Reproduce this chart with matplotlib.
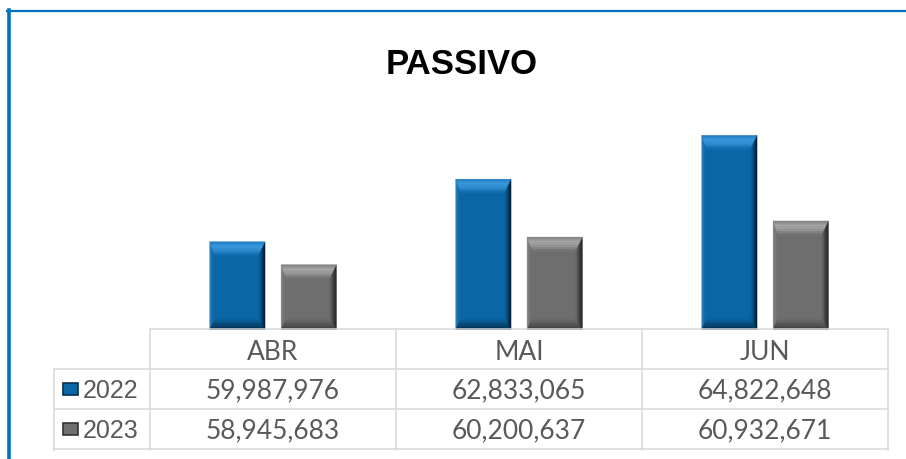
import matplotlib
matplotlib.use("Agg")
import matplotlib.pyplot as plt
from matplotlib.patches import Polygon, Rectangle
from matplotlib.lines import Line2D
from matplotlib.transforms import blended_transform_factory
from matplotlib.colors import to_rgb
import numpy as np

# ---- data ----
categories = ["ABR", "MAI", "JUN"]
series_names = ["2022", "2023"]
values_2022 = [59987976, 62833065, 64822648]
values_2023 = [58945683, 60200637, 60932671]
labels_2022 = ["59,987,976", "62,833,065", "64,822,648"]
labels_2023 = ["58,945,683", "60,200,637", "60,932,671"]
title = "PASSIVO"

W, H = 906, 460
fig = plt.figure(figsize=(W / 100, H / 100), dpi=100)
fig.patch.set_facecolor("white")

def fx(px):
    return px / W

def fy(py):
    return 1 - py / H

ax = fig.add_axes([fx(150), fy(330.5), fx(888) - fx(150), fy(110.5) - fy(330.5)])
ax.set_xlim(-0.5, 2.5)
ax.set_ylim(56e6, 66e6)
ax.axis("off")

x = np.arange(len(categories))
bw = 0.224
off = 0.145
face = {"2022": "#0a66a5", "2023": "#6e6e6e"}
# colour stops from outer edge (t=0) to inner edge (t=1) of each bevel side
bevel = {
    "2022": {"top": ["#2079bb", "#3a9ae0", "#2d8acd", "#0a66a5"],
             "left": ["#2a82c2", "#1570b0", "#0a66a5"],
             "right": ["#031a2c", "#05304f", "#0a5589", "#0a66a5"],
             "bottom": ["#04294a", "#064a7a", "#0a66a5"]},
    "2023": {"top": ["#7d7d7d", "#a8a8a8", "#959595", "#6e6e6e"],
             "left": ["#8a8a8a", "#767676", "#6e6e6e"],
             "right": ["#222222", "#333333", "#555555", "#6e6e6e"],
             "bottom": ["#3a3a3a", "#555555", "#6e6e6e"]},
}

def interp(stops, t):
    n = len(stops) - 1
    pos = t * n
    i = min(int(pos), n - 1)
    f = pos - i
    a = np.array(to_rgb(stops[i])); b = np.array(to_rgb(stops[i + 1]))
    return tuple(a + (b - a) * f)

bars = {}
bars["2022"] = ax.bar(x - off, values_2022, bw, color=face["2022"],
                      edgecolor="#c8d6e2", linewidth=0.7, zorder=2)
bars["2023"] = ax.bar(x + off, values_2023, bw, color=face["2023"],
                      edgecolor="#cccccc", linewidth=0.7, zorder=2)

fig.canvas.draw()
p0 = ax.transData.transform((0, 0))
p1 = ax.transData.transform((1, 1e6))
pxx = p1[0] - p0[0]
pxy = (p1[1] - p0[1]) / 1e6

bt, bb, bl, br = 14, 11, 5, 7
NS = 8
for name in series_names:
    c = bevel[name]
    for r in bars[name]:
        x0 = r.get_x(); x1 = x0 + r.get_width()
        y0 = ax.get_ylim()[0]; y1 = r.get_height()
        dl, dr = bl / pxx, br / pxx
        dt, db = bt / pxy, bb / pxy
        for k in range(NS):
            ta, tb_ = k / NS, (k + 1) / NS
            tm = (ta + tb_) / 2
            sides = {
                "top": [(x0 + dl * ta, y1 - dt * ta), (x1 - dr * ta, y1 - dt * ta),
                        (x1 - dr * tb_, y1 - dt * tb_), (x0 + dl * tb_, y1 - dt * tb_)],
                "bottom": [(x0 + dl * ta, y0 + db * ta), (x1 - dr * ta, y0 + db * ta),
                           (x1 - dr * tb_, y0 + db * tb_), (x0 + dl * tb_, y0 + db * tb_)],
                "left": [(x0 + dl * ta, y0 + db * ta), (x0 + dl * ta, y1 - dt * ta),
                         (x0 + dl * tb_, y1 - dt * tb_), (x0 + dl * tb_, y0 + db * tb_)],
                "right": [(x1 - dr * ta, y0 + db * ta), (x1 - dr * ta, y1 - dt * ta),
                          (x1 - dr * tb_, y1 - dt * tb_), (x1 - dr * tb_, y0 + db * tb_)],
            }
            for side in ["left", "right", "bottom", "top"]:
                col = interp(c[side], tm)
                ax.add_patch(Polygon(sides[side], closed=True, facecolor=col,
                                     edgecolor=col, lw=0.3, zorder=3))

# ---- title ----
fig.text(fx(462), fy(65), title, ha="center", va="center", fontsize=25,
         fontweight="bold", family="Liberation Sans", color="black")

# ---- border ----
fig.add_artist(Line2D([fx(8.8), fx(8.8)], [fy(11), 0], color="#0070c0", lw=2.6))
fig.add_artist(Line2D([fx(7), 1], [fy(12), fy(12)], color="#0070c0", lw=1.6))

# ---- data table ----
grid = "#d9d9d9"
lw = 1.1
tb = blended_transform_factory(ax.transData, fig.transFigure)
col_edges = [-0.5, 0.5, 1.5, 2.5]
for ce in col_edges:
    fig.add_artist(Line2D([ce, ce], [fy(329.5), fy(451)], transform=tb, color=grid, lw=lw))
fig.add_artist(Line2D([fx(54), fx(54)], [fy(370), fy(451)], color=grid, lw=lw))
fig.add_artist(Line2D([-0.5, 2.5], [fy(329.5), fy(329.5)], transform=tb, color=grid, lw=lw))
for yy in [370, 410, 450]:
    fig.add_artist(Line2D([fx(54), fx(888)], [fy(yy), fy(yy)], color=grid, lw=lw))

txtc = "#595959"
vfont = "Lato"
for i, cat in enumerate(categories):
    fig.text(i, fy(352), cat, transform=tb, ha="center", va="center",
             fontsize=19, family=vfont, color=txtc)
    fig.text(i, fy(391), labels_2022[i], transform=tb, ha="center", va="center",
             fontsize=19, family=vfont, color=txtc)
    fig.text(i, fy(431), labels_2023[i], transform=tb, ha="center", va="center",
             fontsize=19, family=vfont, color=txtc)

for name, py in zip(series_names, [390, 430]):
    fig.add_artist(Rectangle((fx(63), fy(py + 6)), fx(15), fy(py - 6) - fy(py + 6),
                             facecolor=face[name], edgecolor=bevel[name]["right"][1], lw=1.2))
    fig.text(fx(83), fy(py + 1), name, ha="left", va="center", fontsize=18,
             family="Liberation Sans", color=txtc)

fig.savefig("out.png", dpi=100, facecolor="white")
